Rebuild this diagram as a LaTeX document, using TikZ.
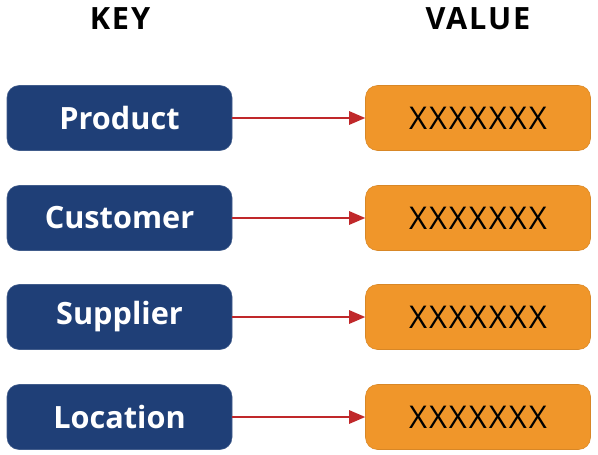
\documentclass[tikz,border=0pt]{standalone}
\usepackage{fontspec}
\setmainfont{Open Sans}
\newfontfamily\spacedfont[LetterSpace=6]{Open Sans}
\usetikzlibrary{arrows.meta}
\definecolor{keyblue}{HTML}{1F3F77}
\definecolor{valorange}{HTML}{F0962A}
\definecolor{arrowred}{HTML}{C0282A}
\tikzset{
    keybox/.style={draw=keyblue!85!white, fill=keyblue, rounded corners=9pt, minimum width=168.75pt, minimum height=48.75pt, text=white, font=\fontsize{23}{26}\selectfont\bfseries},
    valbox/.style={draw=valorange!90!black, fill=valorange, rounded corners=9pt, minimum width=168.75pt, minimum height=48.75pt, text=black, font=\spacedfont\fontsize{23.5}{26}\selectfont},
    head/.style={font=\spacedfont\fontsize{23}{26}\selectfont\bfseries},
    link/.style={arrowred, line width=1.2pt, -{Triangle[length=12pt, width=10pt]}}
}
\begin{document}
        \begin{tikzpicture}[x=0.75pt, y=-0.75pt]
            \useasboundingbox (0,0) rectangle (598,454);

            \node[head] (key) at (120,19) {KEY};
            \node[head] (value) at (478,19) {VALUE};

            \node[keybox] (product) at (119.5,118) {Product};
            \node[keybox] (customer) at (119.5,218) {Customer};
            \node[keybox] (supplier) at (119.5,317) {Supplier};
            \node[keybox] (location) at (119.5,417) {Location};

            \node[valbox] (v1) at (478,118) {XXXXXXX};
            \node[valbox] (v2) at (478,218) {XXXXXXX};
            \node[valbox] (v3) at (478,317) {XXXXXXX};
            \node[valbox] (v4) at (478,417) {XXXXXXX};

            \draw[link] (product) -- (v1);
            \draw[link] (customer) -- (v2);
            \draw[link] (supplier) -- (v3);
            \draw[link] (location) -- (v4);
        \end{tikzpicture}
\end{document}
